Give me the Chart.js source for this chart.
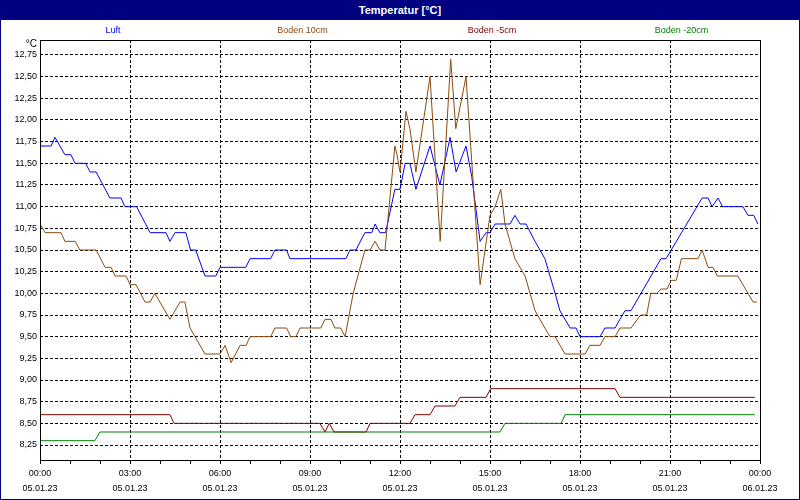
<!DOCTYPE html>
<html>
<head>
<meta charset="utf-8">
<title>Temperatur</title>
<script src="https://cdn.jsdelivr.net/npm/chart.js@4/dist/chart.umd.min.js"></script>
<style>
    body { margin: 0; background: #fff; }
    #app { position: relative; width: 800px; height: 500px; overflow: hidden; font-family: 'Liberation Sans', Arial, sans-serif; background: #fff; }
    #app canvas { position: absolute; left: 0; top: 0; }
    #titlebar { position: absolute; left: 0; top: 0; width: 800px; height: 20px; background: #000080; color: #fff; font-weight: bold; font-size: 11px; line-height: 20px; text-align: center; }
    #legend span { position: absolute; top: 24px; font-size: 9px; line-height: 12px; transform: translateX(-50%); white-space: nowrap; }
    #frame { position: absolute; left: 0; top: 0; width: 800px; height: 500px; border: 1px solid #000080; box-sizing: border-box; }
</style>
</head>
<body>
<div id="app">
    <canvas id="tempChart" width="800" height="500"></canvas>
    <div id="titlebar">Temperatur [°C]</div>
    <div id="legend"></div>
    <div id="frame"></div>
</div>
<script>
const seriesNames = ['Luft', 'Boden 10cm', 'Boden -5cm', 'Boden -20cm'];
const seriesColors = ['#0000ff', '#8c4a0c', '#800000', '#008000'];

// hours since 05.01.23 00:00 / temperature in °C
const luftHours = [0, 0.37, 0.5, 0.83, 1.03, 1.17, 1.52, 1.67, 1.87, 2.33, 2.7, 2.83, 3.22, 3.67, 4.2, 4.33, 4.5, 4.86, 5.02, 5.19,
    5.5, 5.86, 6.0, 6.86, 7.0, 7.69, 7.83, 8.22, 8.33, 10.2, 10.33, 10.53, 10.83, 11.06, 11.17, 11.33, 11.52, 11.83, 12.0, 12.17,
    12.33, 12.53, 13.0, 13.33, 13.67, 13.87, 14.2, 14.39, 14.67, 14.87, 15.0, 15.17, 15.67, 15.83, 16.0, 16.2, 16.5, 16.83, 17.17, 17.33,
    17.67, 17.87, 18.0, 18.67, 18.83, 19.17, 19.33, 19.5, 19.7, 20.7, 20.87, 22.07, 22.27, 22.4, 22.6, 22.75, 23.43, 23.6, 23.79, 23.93];
const luftTemp = [11.7, 11.7, 11.8, 11.6, 11.6, 11.5, 11.5, 11.4, 11.4, 11.1, 11.1, 11.0, 11.0, 10.7, 10.7, 10.6, 10.7, 10.7, 10.5, 10.5,
    10.2, 10.2, 10.3, 10.3, 10.4, 10.4, 10.5, 10.5, 10.4, 10.4, 10.5, 10.5, 10.7, 10.7, 10.8, 10.7, 10.7, 11.2, 11.2, 11.5,
    11.5, 11.2, 11.7, 11.25, 11.8, 11.4, 11.7, 11.35, 10.6, 10.7, 10.7, 10.8, 10.8, 10.9, 10.8, 10.8, 10.6, 10.4, 10.0, 9.8,
    9.6, 9.6, 9.5, 9.5, 9.6, 9.6, 9.7, 9.8, 9.8, 10.4, 10.4, 11.1, 11.1, 11.0, 11.1, 11.0, 11.0, 10.9, 10.9, 10.8];

const boden10Hours = [0, 0.17, 0.7, 0.83, 1.17, 1.33, 1.87, 2.17, 2.37, 2.5, 2.87, 3.0, 3.2, 3.5, 3.67, 3.83, 4.33, 4.67, 4.83, 5.0,
    5.5, 6.0, 6.17, 6.37, 6.67, 6.87, 7.0, 7.69, 7.83, 8.22, 8.36, 8.53, 8.67, 9.36, 9.5, 9.7, 9.83, 10.02, 10.17, 10.44,
    10.83, 11.0, 11.17, 11.33, 11.5, 11.83, 11.9, 12.0, 12.2, 12.33, 12.53, 13.0, 13.34, 13.69, 13.86, 14.2, 14.67, 15.0, 15.17, 15.36,
    15.5, 15.83, 16.17, 16.5, 16.83, 17.0, 17.17, 17.5, 18.17, 18.33, 18.67, 18.83, 19.17, 19.33, 19.7, 20.02, 20.22, 20.36, 20.57, 20.7,
    20.9, 21.04, 21.21, 21.38, 21.93, 22.07, 22.27, 22.43, 22.58, 23.26, 23.77, 23.9];
const boden10Temp = [10.8, 10.7, 10.7, 10.6, 10.6, 10.5, 10.5, 10.3, 10.3, 10.2, 10.2, 10.1, 10.1, 9.9, 9.9, 10.0, 9.7, 9.9, 9.9, 9.6,
    9.3, 9.3, 9.4, 9.2, 9.4, 9.4, 9.5, 9.5, 9.6, 9.6, 9.5, 9.5, 9.6, 9.6, 9.7, 9.7, 9.6, 9.6, 9.5, 10.0,
    10.5, 10.5, 10.6, 10.5, 10.5, 11.7, 11.6, 11.4, 12.1, 11.9, 11.4, 12.5, 10.6, 12.7, 11.9, 12.5, 10.1, 10.9, 11.0, 11.2,
    10.8, 10.4, 10.2, 9.8, 9.6, 9.5, 9.5, 9.3, 9.3, 9.4, 9.4, 9.5, 9.5, 9.6, 9.6, 9.75, 9.75, 10.0, 10.0, 10.05,
    10.05, 10.15, 10.15, 10.4, 10.4, 10.5, 10.3, 10.3, 10.2, 10.2, 9.9, 9.9];

const boden5Hours = [0, 4.33, 4.47, 9.33, 9.5, 9.64, 9.8, 10.87, 11.0, 12.33, 12.5, 13.0, 13.17, 13.83, 14.0, 14.87, 15.02, 19.17, 19.33, 23.83];
const boden5Temp = [8.6, 8.6, 8.5, 8.5, 8.4, 8.5, 8.4, 8.4, 8.5, 8.5, 8.6, 8.6, 8.7, 8.7, 8.8, 8.8, 8.9, 8.9, 8.8, 8.8];

const boden20Hours = [0, 1.83, 2.0, 15.33, 15.5, 17.37, 17.5, 23.83];
const boden20Temp = [8.3, 8.3, 8.4, 8.4, 8.5, 8.5, 8.6, 8.6];

const timeLabels = ['00:00', '03:00', '06:00', '09:00', '12:00', '15:00', '18:00', '21:00', '00:00'];
const dateLabels = ['05.01.23', '05.01.23', '05.01.23', '05.01.23', '05.01.23', '05.01.23', '05.01.23', '05.01.23', '06.01.23'];
const yTicks = [8.25, 8.5, 8.75, 9.0, 9.25, 9.5, 9.75, 10.0, 10.25, 10.5, 10.75, 11.0, 11.25, 11.5, 11.75, 12.0, 12.25, 12.5, 12.75];
const hourTicks = Array.from({ length: 25 }, (_, i) => i);

function toPoints(hours, temps) {
    return hours.map((h, i) => ({ x: h, y: temps[i] }));
}

function renderLegend() {
    const legend = document.getElementById('legend');
    seriesNames.forEach((name, i) => {
        const item = document.createElement('span');
        item.textContent = name;
        item.style.color = seriesColors[i];
        item.style.left = (113 + i * 189.5) + 'px';
        legend.appendChild(item);
    });
}

const framePlugin = {
    id: 'frame',
    afterDraw(chart) {
        const { ctx, chartArea: a } = chart;
        ctx.save();
        ctx.strokeStyle = '#000';
        ctx.lineWidth = 1;
        ctx.strokeRect(a.left + 0.5, a.top + 0.5, a.right - a.left, a.bottom - a.top);
        ctx.fillStyle = '#000';
        ctx.font = "10px 'Liberation Sans', Arial, sans-serif";
        ctx.textAlign = 'right';
        ctx.textBaseline = 'middle';
        ctx.fillText('°C', a.left - 3, a.top + 4);
        ctx.restore();
    }
};

Chart.defaults.font.family = "'Liberation Sans', Arial, sans-serif";

const allSeries = [
    [luftHours, luftTemp],
    [boden10Hours, boden10Temp],
    [boden5Hours, boden5Temp],
    [boden20Hours, boden20Temp]
];

const ctx = document.getElementById('tempChart').getContext('2d');
const myChart = new Chart(ctx, {
    type: 'line',
    data: {
        datasets: allSeries.map((s, i) => ({
            label: seriesNames[i],
            data: toPoints(s[0], s[1]),
            borderColor: seriesColors[i],
            borderWidth: 1,
            pointRadius: 0,
            tension: 0,
            fill: false,
            order: allSeries.length - 1 - i
        }))
    },
    options: {
        responsive: false,
        animation: false,
        layout: { padding: { top: 40, right: 40, left: 0, bottom: 0 } },
        plugins: { legend: { display: false }, tooltip: { enabled: false } },
        scales: {
            x: {
                type: 'linear',
                min: 0,
                max: 24,
                bounds: 'data',
                afterBuildTicks: s => { s.ticks = hourTicks.map(v => ({ value: v })); },
                afterFit: s => { s.height = 40; },
                grid: {
                    color: c => (c.tick && c.tick.value % 3 === 0 && c.tick.value > 0 && c.tick.value < 24) ? '#000' : 'rgba(0,0,0,0)',
                    tickColor: '#000',
                    tickLength: 4,
                    lineWidth: 1
                },
                border: { display: false, dash: [3, 2] },
                ticks: {
                    autoSkip: false,
                    maxRotation: 0,
                    padding: 2,
                    color: '#000',
                    font: { size: 9, lineHeight: 1.667 },
                    callback: v => v % 3 === 0 ? [timeLabels[v / 3], dateLabels[v / 3]] : ''
                }
            },
            y: {
                min: 8.077,
                max: 12.923,
                bounds: 'data',
                afterBuildTicks: s => { s.ticks = yTicks.map(v => ({ value: v })); },
                afterFit: s => { s.width = 40; },
                grid: { color: '#000', drawTicks: false, lineWidth: 1 },
                border: { display: false, dash: [3, 2] },
                ticks: {
                    padding: 3,
                    color: '#000',
                    font: { size: 9 },
                    callback: v => v.toFixed(2).replace('.', ',')
                }
            }
        }
    },
    plugins: [framePlugin]
});

renderLegend();
</script>
</body>
</html>
